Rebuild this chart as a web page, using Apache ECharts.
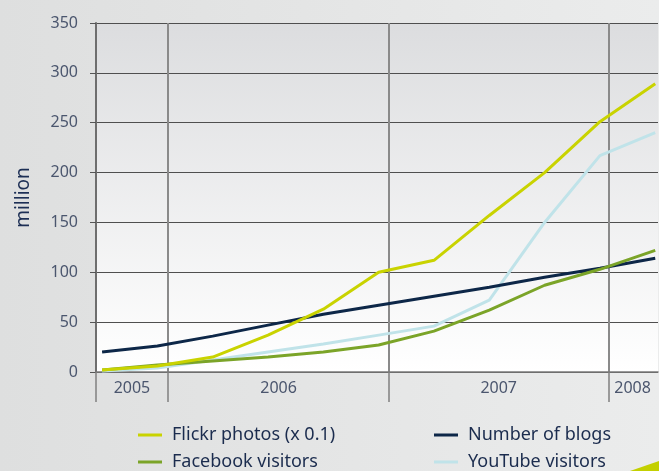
<!DOCTYPE html>
<html>
<head>
<meta charset="utf-8">
<script src="https://cdn.jsdelivr.net/npm/echarts@6/dist/echarts.min.js"></script>
<style>
  html, body { margin: 0; padding: 0; }
  #chart { width: 659px; height: 471px; }
</style>
</head>
<body>
<div id="chart"></div>
<script>
// quarter index along the time axis (one point every quarter, autumn 2005 .. early 2008)
var quarters = [0, 1, 2, 3, 4, 5, 6, 7, 8, 9, 10];
var flickr   = [2, 6, 15, 37, 63, 100, 112, 157, 200, 251, 289];
var blogs    = [20, 26, 36, 47, 58, 67, 76, 85, 95, 104, 114];
var facebook = [2, 7, 11, 15, 20, 27, 41, 62, 87, 103, 122];
var youtube  = [1, 4, 12, 20, 28, 37, 46, 72, 150, 217, 240];

// year band: boundaries and label centres (in quarter units)
var yearBounds  = [-0.11, 1.19, 5.19, 9.16];
var yearCenters = [0.54, 3.19, 7.17, 9.59];
var yearLabels  = ['2005', '2006', '2007', '2008'];

var colors = ['#c9d300', '#0d2748', '#7ba428', '#c0e3e9'];
var names = ['Flickr photos (x 0.1)', 'Number of blogs', 'Facebook visitors', 'YouTube visitors'];

function pairs(vals) {
  return quarters.map(function (q, i) { return [q, vals[i]]; });
}

var chart = echarts.init(document.getElementById('chart'));
var font = 'Noto Sans';

// one legend per item so the 2x2 layout is fixed
function legendItem(name, left, top) {
  return {
    left: left, top: top,
    data: [name],
    icon: 'rect', itemWidth: 24, itemHeight: 3,
    textStyle: { fontFamily: font, fontSize: 18, color: '#1b2c4e', padding: [0, 0, 0, 5] }
  };
}

var option = {
  backgroundColor: {
    type: 'linear', x: 0, y: 0, x2: 1, y2: 0,
    colorStops: [{ offset: 0, color: '#dedfdf' }, { offset: 1, color: '#ebecec' }]
  },
  textStyle: { fontFamily: font },
  animation: false,
  grid: {
    left: 96, right: 1, top: 23, bottom: 99,
    show: true, borderWidth: 0,
    backgroundColor: {
      type: 'linear', x: 0, y: 0, x2: 0, y2: 1,
      colorStops: [{ offset: 0, color: '#dcdddf' }, { offset: 1, color: '#ffffff' }]
    }
  },
  legend: [
    legendItem(names[0], 133, 421),
    legendItem(names[2], 133, 448),
    legendItem(names[1], 429, 421),
    legendItem(names[3], 429, 448)
  ],
  xAxis: {
    type: 'value',
    min: yearBounds[0], max: 10.05,
    axisLine: { show: true, lineStyle: { color: '#7a7a7a', width: 1.5 } },
    axisTick: {
      show: true, inside: false, length: 30,
      customValues: yearBounds,
      lineStyle: { color: '#808080', width: 1.5 }
    },
    axisLabel: {
      customValues: yearCenters,
      margin: 8,
      fontSize: 16, color: '#4b566e', fontFamily: font,
      formatter: function (v) {
        for (var i = 0; i < yearCenters.length; i++) {
          if (Math.abs(yearCenters[i] - v) < 0.01) return yearLabels[i];
        }
        return '';
      }
    },
    splitLine: { show: true, lineStyle: { color: '#8a8a8a', width: 2 } }
  },
  yAxis: {
    type: 'value',
    min: 0, max: 350, interval: 50,
    name: 'million',
    nameLocation: 'middle',
    nameRotate: 90,
    nameGap: 63,
    nameTextStyle: { fontSize: 19, color: '#1d2f55', fontFamily: font },
    axisLine: { show: true, onZero: false, lineStyle: { color: '#6e6e6e', width: 2 } },
    axisTick: { show: true, length: 6, lineStyle: { color: '#555' } },
    axisLabel: { margin: 18, fontSize: 16, color: '#4b566e', fontFamily: font },
    splitLine: { show: true, lineStyle: { color: '#4f4f4f', width: 1 } }
  },
  series: [
    { name: names[1], type: 'line', data: pairs(blogs), symbol: 'none', lineStyle: { width: 3, color: colors[1] }, itemStyle: { color: colors[1] }, z: 3 },
    { name: names[3], type: 'line', data: pairs(youtube), symbol: 'none', lineStyle: { width: 3, color: colors[3] }, itemStyle: { color: colors[3] }, z: 2 },
    { name: names[2], type: 'line', data: pairs(facebook), symbol: 'none', lineStyle: { width: 3, color: colors[2] }, itemStyle: { color: colors[2] }, z: 4 },
    { name: names[0], type: 'line', data: pairs(flickr), symbol: 'none', lineStyle: { width: 3, color: colors[0] }, itemStyle: { color: colors[0] }, z: 5 }
  ],
  graphic: [
    {
      type: 'polygon', silent: true,
      shape: { points: [[630, 471], [659, 461], [659, 471]] },
      style: { fill: '#c3d000' }
    }
  ]
};

chart.setOption(option);
</script>
</body>
</html>
